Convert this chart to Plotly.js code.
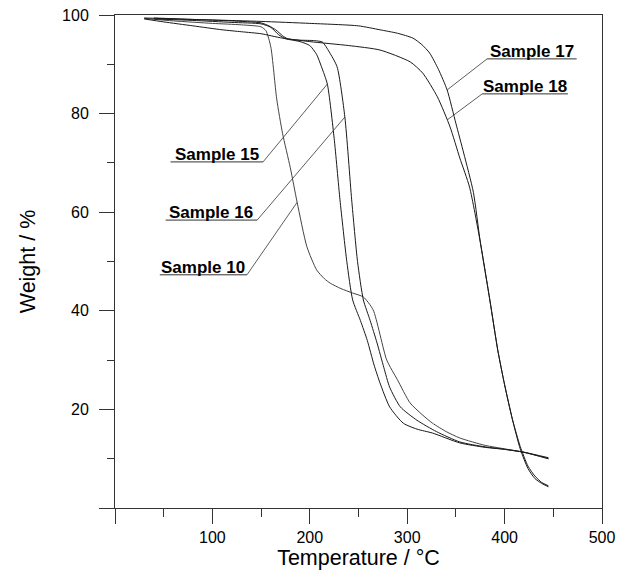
<!DOCTYPE html>
<html>
<head>
<meta charset="utf-8">
<script src="https://cdn.plot.ly/plotly-3.0.1.min.js"></script>
<style>html,body{margin:0;padding:0;background:#fff;}#chart{width:633px;height:583px;}</style>
</head>
<body>
<div id="chart"></div>
<script>
// Temperature (°C) and weight (%)
const t10 = [30, 60, 100, 130, 150, 155, 160, 166, 172, 180, 187, 197, 207, 215, 221, 232, 244, 255, 265, 279, 290, 303, 315, 326, 340, 354, 380, 400, 420, 445];
const w10 = [99.3, 98.8, 98.3, 98.0, 97.6, 96.8, 93.5, 83, 76, 69, 62, 53, 48.3, 46.5, 45.6, 44.5, 43.6, 42.8, 40.2, 30, 26, 21.3, 19, 17.2, 15.5, 14.2, 12.7, 12.0, 11.3, 10.0];

const t15 = [40, 80, 120, 150, 160, 168, 175, 190, 200, 207, 212, 218, 225, 231, 238, 244, 252, 259, 266, 272, 282, 296, 310, 326, 354, 380, 400, 420, 445];
const w15 = [99.2, 98.9, 98.5, 98.2, 97.5, 96, 95.2, 94.6, 93.8, 92, 89.5, 86, 75, 62.5, 50, 42.2, 38, 34, 29, 25.4, 20.5, 17.2, 16, 15.2, 13.2, 12.3, 11.9, 11.3, 10.2];

const t16 = [40, 80, 120, 150, 158, 165, 172, 177, 190, 205, 213, 220, 228, 236, 243, 249, 255, 262, 269, 276, 282, 293, 310, 330, 354, 380, 400, 420, 445];
const w16 = [99.4, 99.1, 98.8, 98.4, 97.8, 97, 95.8, 95.2, 94.9, 94.8, 94.5, 92.5, 89.5, 79.3, 62.5, 50, 42.2, 38, 33.5, 28.5, 24.5, 20.5, 17.8, 15.5, 13.4, 12.4, 11.9, 11.3, 10.0];

const t17 = [30, 60, 100, 150, 200, 250, 272, 290, 306, 315, 323, 332, 341, 350, 358, 368, 375, 385, 393, 400, 408, 416, 424, 431, 438, 445];
const w17 = [99.4, 99.2, 99.0, 98.7, 98.3, 97.8, 97, 96.3, 95.3, 94, 92.3, 89, 84.8, 78, 72, 64, 54, 42, 32, 25, 18, 12.5, 8.5, 6.5, 5.2, 4.5];

const t18 = [30, 50, 80, 110, 130, 150, 172, 200, 240, 272, 303, 316, 331, 344, 354, 364, 375, 385, 393, 400, 408, 416, 424, 431, 438, 445];
const w18 = [99.2, 98.6, 97.8, 97, 96.6, 96.2, 95.3, 94.6, 93.8, 92.9, 90.5, 88.2, 83.4, 77.3, 71, 65.1, 54, 42, 32, 25, 18, 12, 8, 6, 5, 4.3];

// Label callouts
const sampleNames = ["Sample 17", "Sample 18", "Sample 15", "Sample 16", "Sample 10"];
const labelCurveT = [341, 341, 218, 236, 187];
const labelLineX0 = [382, 377, 57, 52, 46];
const labelLineX1 = [474, 465, 152, 146, 135.5];
const labelLineY  = [91.1, 84.0, 70.2, 58.4, 47.3];
const labelLeaderEnd = ["start", "start", "end", "end", "end"];

const seriesT = {"Sample 10": t10, "Sample 15": t15, "Sample 16": t16, "Sample 17": t17, "Sample 18": t18};
const seriesW = {"Sample 10": w10, "Sample 15": w15, "Sample 16": w16, "Sample 17": w17, "Sample 18": w18};

function interp(ts, ws, t) {
  for (let i = 0; i < ts.length - 1; i++) {
    if (t >= ts[i] && t <= ts[i + 1]) {
      const f = (t - ts[i]) / (ts[i + 1] - ts[i]);
      return ws[i] + f * (ws[i + 1] - ws[i]);
    }
  }
  return ws[ws.length - 1];
}

const order = ["Sample 10", "Sample 15", "Sample 16", "Sample 17", "Sample 18"];
const traces = order.map(n => ({
  x: seriesT[n], y: seriesW[n], type: 'scatter', mode: 'lines', name: n,
  line: {color: n === "Sample 10" ? '#444' : '#1a1a1a', width: 1, shape: 'spline', smoothing: 0.6},
  hoverinfo: 'x+y+name'
}));

const FONT = 'Liberation Sans, Arial, sans-serif';
const shapes = [];
const annotations = [];
sampleNames.forEach((n, i) => {
  const lc = '#333';
  shapes.push({type: 'line', xref: 'x', yref: 'y', x0: labelLineX0[i], x1: labelLineX1[i], y0: labelLineY[i], y1: labelLineY[i], line: {color: lc, width: 1}});
  const sx = labelLeaderEnd[i] === "start" ? labelLineX0[i] : labelLineX1[i];
  const tx = labelCurveT[i];
  const ty = interp(seriesT[n], seriesW[n], tx);
  shapes.push({type: 'line', xref: 'x', yref: 'y', x0: sx, y0: labelLineY[i], x1: tx, y1: ty, line: {color: lc, width: 0.8}});
  annotations.push({
    x: (labelLineX0[i] + labelLineX1[i]) / 2, y: labelLineY[i], xref: 'x', yref: 'y',
    text: '<b>' + n + '</b>', showarrow: false, xanchor: 'center', yanchor: 'bottom',
    borderpad: 0, yshift: -3,
    font: {family: FONT, size: 17, color: '#000'}
  });
});

const axisCommon = {
  showgrid: false, zeroline: false, showline: true, linecolor: '#333', linewidth: 1, mirror: true,
  ticks: 'outside', ticklen: 15, tickwidth: 1, tickcolor: '#333',
  tickfont: {family: FONT, size: 16, color: '#000'}
};

const layout = {
  width: 633, height: 583,
  margin: {l: 115, r: 31, t: 15, b: 75},
  paper_bgcolor: '#fff', plot_bgcolor: '#fff',
  showlegend: false,
  font: {family: FONT, color: '#000'},
  xaxis: Object.assign({}, axisCommon, {
    range: [0, 500],
    tickmode: 'array', tickvals: [0, 100, 200, 300, 400, 500], ticktext: ['', '100', '200', '300', '400', '500'],
    minor: {tickmode: 'linear', tick0: 0, dtick: 50, ticks: 'outside', ticklen: 8, tickcolor: '#333', tickwidth: 1},
    title: {text: 'Temperature / °C', font: {family: FONT, size: 21.5, color: '#000'}, standoff: 1}
  }),
  yaxis: Object.assign({}, axisCommon, {
    range: [0, 100],
    tickmode: 'array', tickvals: [0, 20, 40, 60, 80, 100], ticktext: ['', '20', '40', '60', '80', '100'],
    minor: {tickmode: 'linear', tick0: 0, dtick: 10, ticks: 'outside', ticklen: 7, tickcolor: '#333', tickwidth: 1},
    ticklabelstandoff: 7,
    title: {text: 'Weight / %', font: {family: FONT, size: 21.5, color: '#000'}, standoff: 20}
  }),
  shapes: shapes,
  annotations: annotations
};

Plotly.newPlot('chart', traces, layout, {displayModeBar: false, staticPlot: true});
</script>
</body>
</html>
